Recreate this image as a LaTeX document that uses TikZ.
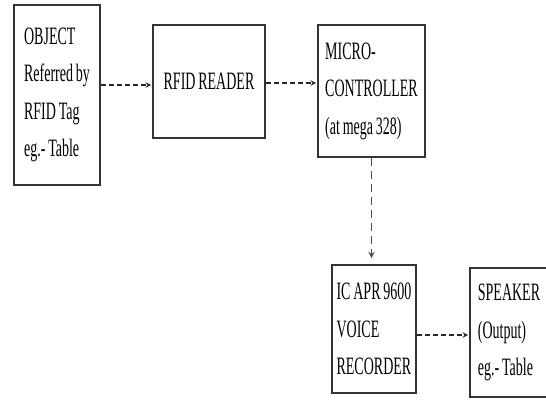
\documentclass[tikz,border=0pt]{standalone}
\usepackage{fontspec}
\usepackage{tikz}
\usetikzlibrary{arrows,positioning}
\newfontfamily\blockfont[FakeStretch=0.56,WordSpace=0.8]{Liberation Serif}

\begin{document}
\begin{tikzpicture}[x=1pt,y=-1pt,->,shorten >=1pt,auto,semithick]
        \tikzstyle{blocknode}=[
            rectangle,
            draw=black!80,
            line width=1.8pt,
            fill=white,
            text=black,
            align=left,
            inner xsep=2pt,
            font={\blockfont\fontsize{25}{37.5}\selectfont}
        ]
        \tikzstyle{flowarrow}=[
            -stealth,
            line width=1.5pt,
            draw=black!85,
            dash pattern=on 5pt off 3pt
        ]

        \useasboundingbox (0,0) rectangle (546,400);

        \node[blocknode, minimum width=86pt, minimum height=180pt] (obj) at (57,95){OBJECT\\Referred by\\RFID Tag\\eg.- Table};
        \node[blocknode, minimum width=112pt, minimum height=113pt, align=center] (rfid) at (209,81.5){RFID READER};
        \node[blocknode, minimum width=107pt, minimum height=132pt] (mcu) at (371.5,91){MICRO-\\CONTROLLER\\(at mega 328)};
        \node[blocknode, minimum width=84pt, minimum height=128pt] (rec) at (374,329){IC APR 9600\\VOICE\\RECORDER};
        \node[blocknode, minimum width=78pt, minimum height=129pt] (spk) at (509,332.5){SPEAKER\\(Output)\\eg.- Table};

        \draw[flowarrow] ([yshift=-3.5pt]rfid.west -| obj.east) -- ([yshift=-3.5pt]rfid.west);
        \draw[flowarrow] ([yshift=-1.5pt]rfid.east) -- ([yshift=-1.5pt]rfid.east -| mcu.west);
        \draw[flowarrow, draw=black!70, line width=1.8pt, dash pattern=on 8pt off 5pt, shorten >=6pt] (mcu.south) -- (mcu.south |- rec.north);
        \draw[flowarrow] ([yshift=-6pt]rec.east) -- ([yshift=-6pt]rec.east -| spk.west);

    \end{tikzpicture}
\end{document}
